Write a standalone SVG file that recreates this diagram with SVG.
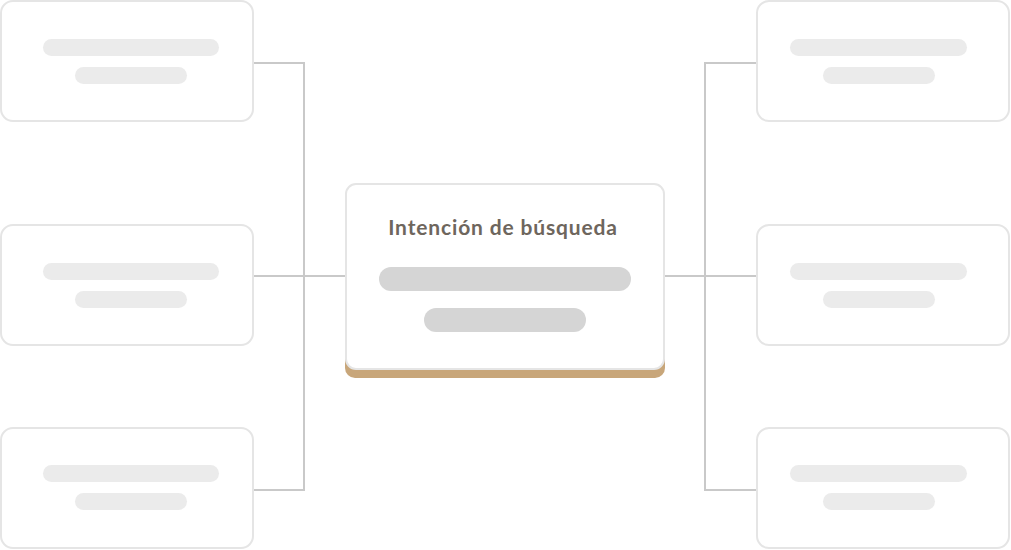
<svg xmlns="http://www.w3.org/2000/svg" width="1011" height="550" viewBox="0 0 1011 550">
<style>
.card{fill:#fff;stroke:#e5e5e5;stroke-width:2}
.bar{fill:#ebebeb}
.cbar{fill:#d5d5d5}
.conn{fill:none;stroke:#c9c9c9;stroke-width:2}
.title{font-family:Lato,"Open Sans",sans-serif;font-weight:700;font-size:21px;letter-spacing:0.85px;fill:#6e665d}
</style>
<rect width="1011" height="550" fill="#fff"/>
<g id="connectors">
<path class="conn" d="M253 63H304V490H253M253 276H346"/>
<path class="conn" d="M757 63H705V490H757M757 276H664"/>
</g>
<g id="left-1"><rect class="card" x="1" y="1" width="252" height="120" rx="12"/><rect class="bar" x="43" y="39" width="176" height="17" rx="8.5"/><rect class="bar" x="75" y="67" width="112" height="17" rx="8.5"/></g>
<g id="left-2"><rect class="card" x="1" y="225" width="252" height="120" rx="12"/><rect class="bar" x="43" y="263" width="176" height="17" rx="8.5"/><rect class="bar" x="75" y="291" width="112" height="17" rx="8.5"/></g>
<g id="left-3"><rect class="card" x="1" y="428" width="252" height="120" rx="12"/><rect class="bar" x="43" y="465" width="176" height="17" rx="8.5"/><rect class="bar" x="75" y="493" width="112" height="17" rx="8.5"/></g>
<g id="right-1"><rect class="card" x="757" y="1" width="252" height="120" rx="12"/><rect class="bar" x="790" y="39" width="177" height="17" rx="8.5"/><rect class="bar" x="823" y="67" width="112" height="17" rx="8.5"/></g>
<g id="right-2"><rect class="card" x="757" y="225" width="252" height="120" rx="12"/><rect class="bar" x="790" y="263" width="177" height="17" rx="8.5"/><rect class="bar" x="823" y="291" width="112" height="17" rx="8.5"/></g>
<g id="right-3"><rect class="card" x="757" y="428" width="252" height="120" rx="12"/><rect class="bar" x="790" y="465" width="177" height="17" rx="8.5"/><rect class="bar" x="823" y="493" width="112" height="17" rx="8.5"/></g>
<g id="center">
<rect x="345" y="190" width="320" height="188" rx="10" fill="#c8a67a"/>
<rect x="346" y="184" width="318" height="185" rx="10" fill="#fff" stroke="#e5e5e5" stroke-width="2"/>
<text class="title" x="503" y="235" text-anchor="middle">Intención de búsqueda</text>
<rect class="cbar" x="379" y="267" width="252" height="24" rx="12"/>
<rect class="cbar" x="424" y="308" width="162" height="24" rx="12"/>
</g>
</svg>
